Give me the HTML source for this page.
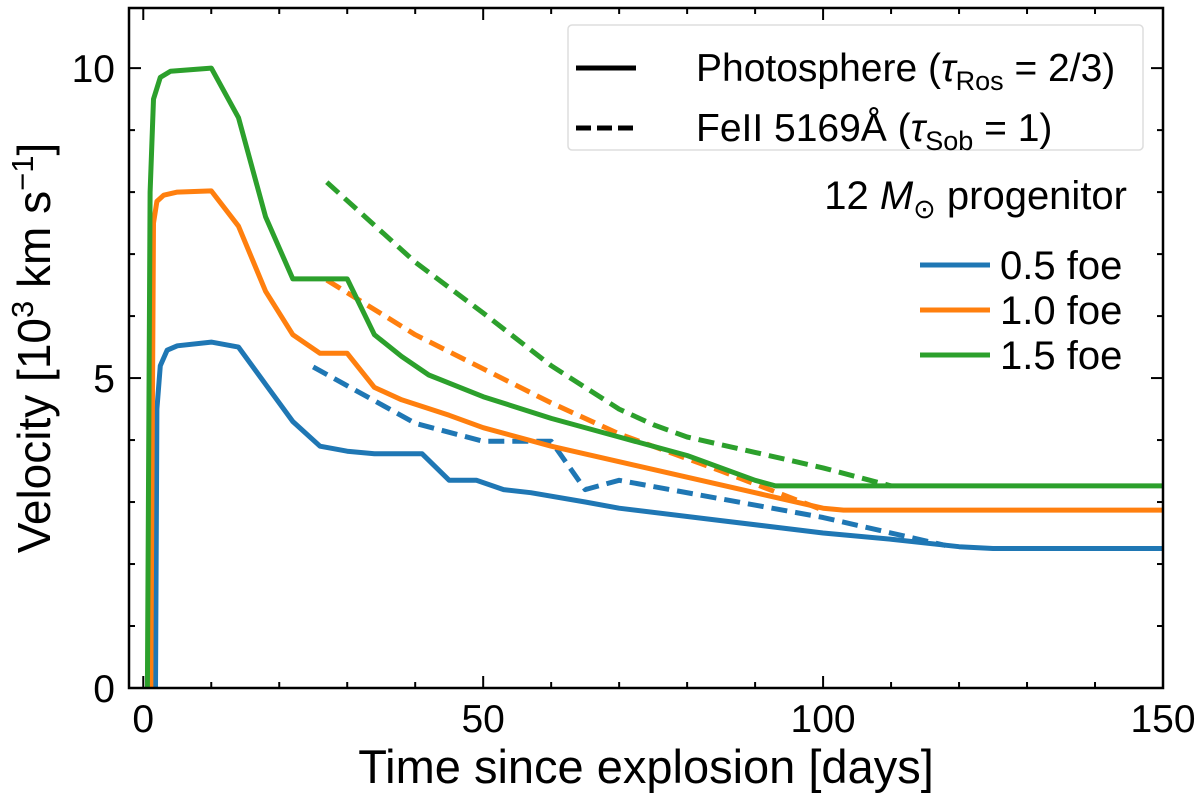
<!DOCTYPE html>
<html><head><meta charset="utf-8"><style>
body{margin:0;background:#fff}
svg text{font-family:"Liberation Sans","DejaVu Sans",sans-serif;fill:#000}
</style></head><body>
<svg id="chart" width="1200" height="794" xmlns="http://www.w3.org/2000/svg">
<g id="marks"></g>
<g id="axes"></g>
<text x="646" y="783" font-size="47" text-anchor="middle">Time since explosion [days]</text>
<text transform="translate(50,348) rotate(-90)" font-size="46" text-anchor="middle">Velocity [10<tspan font-size="31" dy="-17">3</tspan><tspan dy="17"> km s</tspan><tspan font-size="31" dy="-17">−1</tspan><tspan dy="17">]</tspan></text>
<g>
<rect x="568" y="25" width="575" height="125" rx="4" fill="#fff" stroke="#ddd" stroke-width="1.5"/>
<line x1="576" y1="68" x2="636" y2="68" stroke="#000" stroke-width="5"/>
<text x="696" y="81" font-size="39">Photosphere (<tspan font-style="italic">τ</tspan><tspan font-size="27" dy="9">Ros</tspan><tspan dy="-9"> = 2/3)</tspan></text>
<line x1="576" y1="128" x2="636" y2="128" stroke="#000" stroke-width="5" stroke-dasharray="15,6"/>
<text x="696" y="141" font-size="39">FeII 5169Å (<tspan font-style="italic">τ</tspan><tspan font-size="27" dy="9">Sob</tspan><tspan dy="-9"> = 1)</tspan></text>
</g>
<g>
<text x="1127" y="209" font-size="40" text-anchor="end">12 <tspan font-style="italic">M</tspan><tspan font-size="27" dy="9">⊙</tspan><tspan dy="-9"> progenitor</tspan></text>
<line x1="920" y1="265" x2="990" y2="265" stroke="#1f77b4" stroke-width="5"/>
<text x="1000" y="279" font-size="40">0.5 foe</text>
<line x1="920" y1="310" x2="990" y2="310" stroke="#ff7f0e" stroke-width="5"/>
<text x="1000" y="324" font-size="40">1.0 foe</text>
<line x1="920" y1="355" x2="990" y2="355" stroke="#2ca02c" stroke-width="5"/>
<text x="1000" y="369" font-size="40">1.5 foe</text>
</g>
</svg>
<script>
const blueSolidT=[1.8,2,2.5,3.5,5,10,14,18,22,26,30,34,41,45,49,53,57,65,70,85,100,110,120,125,150];
const blueSolidV=[0,4.5,5.2,5.45,5.52,5.58,5.5,4.9,4.3,3.9,3.82,3.78,3.78,3.35,3.35,3.2,3.15,3.0,2.9,2.7,2.5,2.4,2.28,2.25,2.25];
const blueDashT=[25,40,50,60,65,70,75,100,110,118];
const blueDashV=[5.18,4.27,3.98,3.98,3.2,3.35,3.25,2.75,2.5,2.3];
const orangeSolidT=[1.1,1.5,2,3,5,10,14,18,22,26,30,34,38,45,50,60,70,80,90,100,103,150];
const orangeSolidV=[0,7.5,7.85,7.95,8.0,8.02,7.45,6.4,5.7,5.4,5.4,4.85,4.65,4.4,4.2,3.9,3.65,3.4,3.15,2.9,2.87,2.87];
const orangeDashT=[27,40,50,60,70,85,100];
const orangeDashV=[6.58,5.7,5.15,4.6,4.1,3.5,2.87];
const greenSolidT=[0.6,1,1.5,2.5,4,10,14,18,22,26,30,34,38,42,50,60,70,80,90,93,150];
const greenSolidV=[0,8,9.5,9.85,9.95,10.0,9.2,7.6,6.6,6.6,6.6,5.7,5.35,5.05,4.7,4.35,4.05,3.75,3.35,3.26,3.26];
const greenDashT=[27,40,50,60,70,75,80,90,100,110];
const greenDashV=[8.16,6.87,6.05,5.2,4.5,4.25,4.05,3.8,3.55,3.26];
const xTicks=[0,50,100,150];
const yTicks=[0,5,10];
const L=129,R=1163,T=8,B=688,XMIN=-2.1,XMAX=150,YMIN=0,YMAX=10.97;
const xs=t=>L+(t-XMIN)/(XMAX-XMIN)*(R-L);
const ys=v=>B-(v-YMIN)/(YMAX-YMIN)*(B-T);
const NS="http://www.w3.org/2000/svg";
const marks=document.getElementById('marks'),axes=document.getElementById('axes');
function mk(tag,attrs,parent){const e=document.createElementNS(NS,tag);for(const k in attrs)e.setAttribute(k,attrs[k]);parent.appendChild(e);return e;}
function series(T,V,color,dash,name){
  const d=T.map((t,i)=>(i?'L':'M')+xs(t).toFixed(1)+','+ys(V[i]).toFixed(1)).join('');
  const p=mk('path',{d:d,fill:'none',stroke:color,'stroke-width':5,'stroke-linejoin':'round'},marks);
  if(dash)p.setAttribute('stroke-dasharray','16,8');
  
  
}
const cp=mk('clipPath',{id:'clip'},marks);mk('rect',{x:L,y:T,width:R-L,height:B-T},cp);
marks.setAttribute('clip-path','url(#clip)');
series(blueSolidT,blueSolidV,'#1f77b4',false,'line-0-5-foe-photosphere');
series(blueDashT,blueDashV,'#1f77b4',true,'line-0-5-foe-feii');
series(orangeSolidT,orangeSolidV,'#ff7f0e',false,'line-1-0-foe-photosphere');
series(orangeDashT,orangeDashV,'#ff7f0e',true,'line-1-0-foe-feii');
series(greenSolidT,greenSolidV,'#2ca02c',false,'line-1-5-foe-photosphere');
series(greenDashT,greenDashV,'#2ca02c',true,'line-1-5-foe-feii');
const fr=mk('rect',{x:L,y:T,width:R-L,height:B-T,fill:'none',stroke:'#000','stroke-width':2.5},axes);


for(let t=0;t<=150;t+=10){const x=xs(t),big=t%50===0,l=big?12:6;
  mk('line',{x1:x,y1:B,x2:x,y2:B-l,stroke:'#000','stroke-width':2},axes);
  mk('line',{x1:x,y1:T,x2:x,y2:T+l,stroke:'#000','stroke-width':2},axes);}
for(let v=0;v<=10;v++){const y=ys(v),big=v%5===0,l=big?12:6;
  mk('line',{x1:L,y1:y,x2:L+l,y2:y,stroke:'#000','stroke-width':2},axes);
  mk('line',{x1:R,y1:y,x2:R-l,y2:y,stroke:'#000','stroke-width':2},axes);}
xTicks.forEach(t=>{const e=mk('text',{x:xs(t),y:B+44,'font-size':39,'text-anchor':'middle'},axes);e.textContent=t;
  
  });
yTicks.forEach(v=>{const e=mk('text',{x:L-14,y:ys(v)+14,'font-size':39,'text-anchor':'end'},axes);e.textContent=v;
  
  });
</script>
</body></html>
